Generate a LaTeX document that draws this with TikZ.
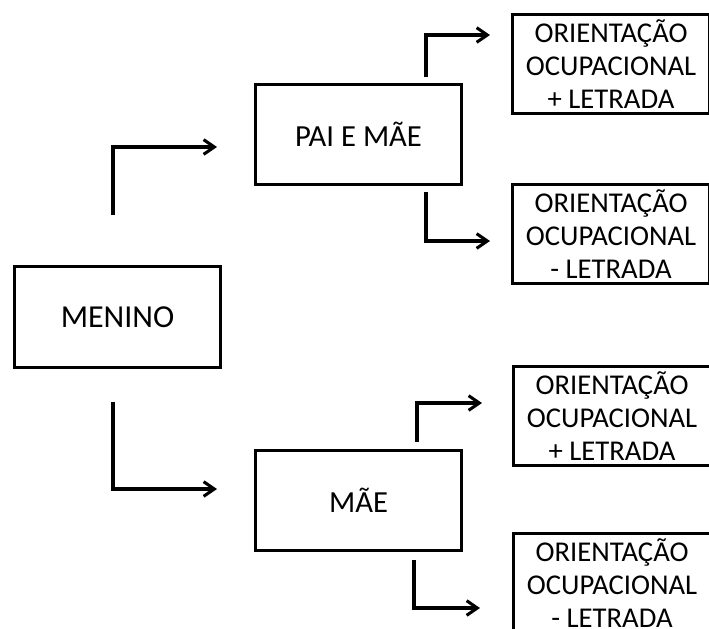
\documentclass[tikz,border=0pt]{standalone}
\usepackage{fontspec}
\setmainfont{Carlito}
\usetikzlibrary{arrows.meta}
\begin{document}
\begin{tikzpicture}[x=0.75pt,y=-0.75pt,
  box/.style={draw, line width=2.3pt, inner sep=0pt, align=center, anchor=north west},
  mid/.style={box, minimum width=154.5pt, minimum height=75pt, font=\fontsize{23}{27}\selectfont},
  leaf/.style={box, minimum width=147.75pt, minimum height=74.25pt, font=\fontsize{21.5}{25}\selectfont},
  conn/.style={line width=2.3pt, -{Straight Barb[length=8pt,width=11pt,line width=2.3pt]}}]
\clip (0,0) rectangle (709,628);
\node[box, minimum width=154.5pt, minimum height=75.75pt, font=\fontsize{24}{28}\selectfont] (menino) at (13,265) {MENINO};
\node[mid] (pai) at (254,83) {PAI E MÃE};
\node[mid] (mae) at (254,449) {MÃE};
\node[leaf] (l1) at (511,13) {ORIENTAÇÃO\\OCUPACIONAL\\+ LETRADA};
\node[leaf] (l2) at (511,183) {ORIENTAÇÃO\\OCUPACIONAL\\- LETRADA};
\node[leaf] (l3) at (512,365) {ORIENTAÇÃO\\OCUPACIONAL\\+ LETRADA};
\node[leaf] (l4) at (512,532) {ORIENTAÇÃO\\OCUPACIONAL\\- LETRADA};
\coordinate (s1) at (113,215); \coordinate (e1) at (217,147);
\coordinate (s2) at (113,402); \coordinate (e2) at (217,489);
\coordinate (s3) at (426,77);  \coordinate (e3) at (490,35);
\coordinate (s4) at (426,192); \coordinate (e4) at (490,241);
\coordinate (s5) at (417,442); \coordinate (e5) at (482,403);
\coordinate (s6) at (414,560); \coordinate (e6) at (480,608);
\draw[conn] (s1) |- (e1);
\draw[conn] (s2) |- (e2);
\draw[conn] (s3) |- (e3);
\draw[conn] (s4) |- (e4);
\draw[conn] (s5) |- (e5);
\draw[conn] (s6) |- (e6);
\end{tikzpicture}
\end{document}
